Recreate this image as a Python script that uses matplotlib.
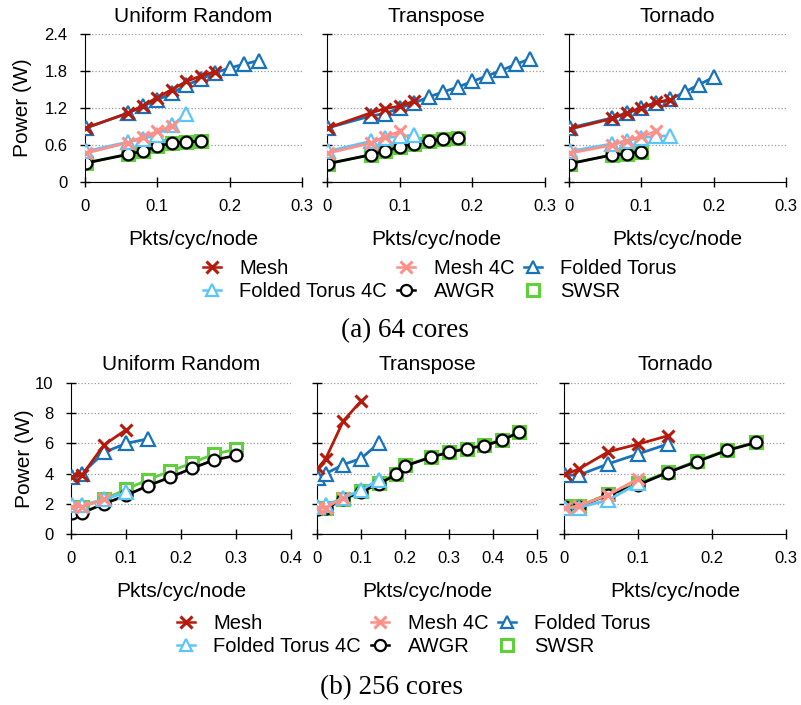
import matplotlib
matplotlib.use('Agg')
import matplotlib.pyplot as plt
from matplotlib.lines import Line2D
from matplotlib.ticker import FuncFormatter

plt.rcParams['font.family'] = ['Liberation Sans', 'DejaVu Sans']

NAMES = ['Mesh', 'Mesh 4C', 'Folded Torus', 'Folded Torus 4C', 'AWGR', 'SWSR']

# ---- 64 cores ----
ur64_x = [0.002, 0.06, 0.08, 0.1, 0.12, 0.14, 0.16, 0.18, 0.2, 0.22, 0.24]
ur64_mesh = [0.88, 1.12, 1.24, 1.37, 1.50, 1.63, 1.72, 1.79]
ur64_mesh4c = [0.47, 0.64, 0.73, 0.82, 0.91]
ur64_ft = [0.88, 1.12, 1.23, 1.33, 1.44, 1.57, 1.67, 1.77, 1.85, 1.91, 1.97]
ur64_ft4c = [0.50, 0.65, 0.70, 0.77, 0.92, 1.10]
ur64_awgr = [0.31, 0.45, 0.50, 0.58, 0.63, 0.65, 0.66]
ur64_swsr = [0.31, 0.45, 0.50, 0.58, 0.63, 0.65, 0.66]

tp64_x = [0.002, 0.06, 0.08, 0.1, 0.12, 0.14, 0.16, 0.18, 0.2, 0.22, 0.24, 0.26, 0.28]
tp64_mesh = [0.88, 1.12, 1.19, 1.23, 1.31]
tp64_mesh4c = [0.47, 0.63, 0.73, 0.82]
tp64_ft = [0.88, 1.07, 1.11, 1.20, 1.28, 1.38, 1.46, 1.54, 1.63, 1.72, 1.81, 1.91, 2.00]
tp64_ft4c = [0.50, 0.66, 0.72, 0.74, 0.76]
tp64_awgr = [0.30, 0.44, 0.50, 0.57, 0.62, 0.67, 0.69, 0.71]
tp64_swsr = [0.30, 0.44, 0.50, 0.57, 0.62, 0.67, 0.69, 0.71]

tn64_x = [0.002, 0.06, 0.08, 0.1, 0.12, 0.14, 0.16, 0.18, 0.2]
tn64_mesh = [0.86, 1.03, 1.12, 1.20, 1.29, 1.33]
tn64_mesh4c = [0.47, 0.60, 0.67, 0.74, 0.82]
tn64_ft = [0.88, 1.04, 1.12, 1.20, 1.28, 1.34, 1.46, 1.58, 1.70]
tn64_ft4c = [0.50, 0.62, 0.67, 0.72, 0.74, 0.75]
tn64_awgr = [0.30, 0.44, 0.46, 0.49]
tn64_swsr = [0.30, 0.44, 0.46, 0.49]

# ---- 256 cores ----
ur256_x = [0.002, 0.02, 0.06, 0.1, 0.14, 0.18, 0.22, 0.26, 0.3]
ur256_mesh = [3.8, 3.9, 5.9, 6.9]
ur256_mesh4c = [1.8, 1.8, 2.3]
ur256_ft = [3.8, 4.0, 5.4, 6.0, 6.3]
ur256_ft4c = [1.9, 1.9, 2.3, 2.75]
ur256_awgr = [1.4, 1.4, 2.0, 2.55, 3.2, 3.75, 4.35, 4.9, 5.2]
ur256_swsr = [1.8, 1.8, 2.3, 2.95, 3.6, 4.15, 4.7, 5.3, 5.6]

tp256_x = [0.002, 0.02, 0.06, 0.1, 0.14, 0.18, 0.2, 0.26, 0.3, 0.34, 0.38, 0.42, 0.46]
tp256_mesh = [4.35, 5.0, 7.5, 8.8]
tp256_mesh4c = [1.7, 1.75, 2.4]
tp256_ft = [3.7, 4.0, 4.6, 5.0, 6.0]
tp256_ft4c = [1.8, 1.9, 2.4, 2.9, 3.6]
tp256_awgr = [1.65, 1.7, 2.3, 2.8, 3.3, 3.95, 4.5, 5.1, 5.4, 5.65, 5.85, 6.2, 6.75]
tp256_swsr = [1.7, 1.75, 2.35, 2.85, 3.4, 4.0, 4.55, 5.1, 5.45, 5.65, 5.9, 6.25, 6.75]

tn256_x = [0.002, 0.02, 0.06, 0.1, 0.14, 0.18, 0.22, 0.26]
tn256_mesh = [3.95, 4.3, 5.45, 5.95, 6.5]
tn256_mesh4c = [1.75, 1.85, 2.6, 3.65]
tn256_ft = [3.9, 3.9, 4.65, 5.3, 5.95]
tn256_ft4c = [1.7, 1.75, 2.25, 3.35]
tn256_awgr = [1.8, 1.8, 2.6, 3.25, 4.07, 4.8, 5.53, 6.06]
tn256_swsr = [1.85, 1.85, 2.65, 3.35, 4.1, 4.85, 5.55, 6.1]

TITLES = ['Uniform Random', 'Transpose', 'Tornado']

STYLE = {
    'Mesh': dict(color='#B51A0A', marker='x', ms=9, mew=2.2, lw=2, zorder=6),
    'Mesh 4C': dict(color='#FF9088', marker='x', ms=9, mew=2.2, lw=2, zorder=4),
    'Folded Torus': dict(color='#1873BA', marker='^', ms=10, mew=1.6, mfc='white', lw=2, zorder=5),
    'Folded Torus 4C': dict(color='#5CC6FA', marker='^', ms=10, mew=1.6, mfc='white', lw=2, zorder=3),
    'AWGR': dict(color='black', marker='o', ms=8.5, mew=1.6, mfc='white', lw=2, zorder=2),
    'SWSR': dict(color='#5ED13A', marker='s', ms=9, mew=2.2, mfc='white', lw=2, zorder=1),
}

W, H = 801, 705
fig = plt.figure(figsize=(W / 100, H / 100), dpi=100)


def px_axes(left, top, width, height):
    return fig.add_axes([left / W, 1 - (top + height) / H, width / W, height / H])


def draw(ax, x, series, title, xmax, xticks, ymax, yticks, first, ylab_x):
    for name, y in zip(NAMES, series):
        ax.plot(x[:len(y)], y, label=name, **STYLE[name])
    ax.set_xlim(0, xmax)
    ax.set_ylim(0, ymax)
    ax.set_xticks(xticks)
    ax.set_yticks(yticks)
    fmt = FuncFormatter(lambda v, p: f'{v:g}')
    ax.xaxis.set_major_formatter(fmt)
    ax.yaxis.set_major_formatter(fmt)
    for s in ['top', 'right']:
        ax.spines[s].set_visible(False)
    ax.tick_params(direction='inout', length=7, width=1, labelsize=12, pad=9)
    ax.yaxis.grid(True, linestyle=':', color='#9a9a9a', lw=0.9)
    ax.set_axisbelow(True)
    ax.set_title(title, fontsize=15, pad=9)
    ax.set_xlabel('Pkts/cyc/node', fontsize=15, labelpad=11)
    if first:
        ax.set_ylabel('Power (W)', fontsize=15)
        ax.yaxis.set_label_coords(ylab_x, 0.5)
    else:
        ax.tick_params(axis='y', labelleft=False)


top_rows = [
    (ur64_x, [ur64_mesh, ur64_mesh4c, ur64_ft, ur64_ft4c, ur64_awgr, ur64_swsr]),
    (tp64_x, [tp64_mesh, tp64_mesh4c, tp64_ft, tp64_ft4c, tp64_awgr, tp64_swsr]),
    (tn64_x, [tn64_mesh, tn64_mesh4c, tn64_ft, tn64_ft4c, tn64_awgr, tn64_swsr]),
]
bot_rows = [
    (ur256_x, [ur256_mesh, ur256_mesh4c, ur256_ft, ur256_ft4c, ur256_awgr, ur256_swsr]),
    (tp256_x, [tp256_mesh, tp256_mesh4c, tp256_ft, tp256_ft4c, tp256_awgr, tp256_swsr]),
    (tn256_x, [tn256_mesh, tn256_mesh4c, tn256_ft, tn256_ft4c, tn256_awgr, tn256_swsr]),
]

top_lefts = [(85, 217), (327, 218), (569, 217)]
bot_lefts = [(71, 220), (317, 220), (564, 222)]
bot_xmax = [0.4, 0.5, 0.3]

for i, ((x, ser), (l, w)) in enumerate(zip(top_rows, top_lefts)):
    ax = px_axes(l, 34, w, 148)
    draw(ax, x, ser, TITLES[i], 0.3, [0, 0.1, 0.2, 0.3], 2.4,
         [0, 0.6, 1.2, 1.8, 2.4], i == 0, -0.245)

for i, ((x, ser), (l, w)) in enumerate(zip(bot_rows, bot_lefts)):
    ax = px_axes(l, 383, w, 151)
    xm = bot_xmax[i]
    ticks = [round(0.1 * k, 1) for k in range(int(round(xm * 10)) + 1)]
    draw(ax, x, ser, TITLES[i], xm, ticks, 10, [0, 2, 4, 6, 8, 10], i == 0, -0.17)

# legend, filled row-wise like the original
order = ['Mesh', 'Folded Torus 4C', 'Mesh 4C', 'AWGR', 'Folded Torus', 'SWSR']


def make_handles():
    hs = []
    for name in order:
        st = {k: v for k, v in STYLE[name].items() if k != 'zorder'}
        st['ms'] = 8
        st['lw'] = 1.8
        if name == 'SWSR':
            st['lw'] = 0
        hs.append(Line2D([], [], **st))
    return hs


leg_kw = dict(ncol=3, loc='center', frameon=False, fontsize=14.5, handlelength=0.9,
              handletextpad=0.9, columnspacing=0.5, labelspacing=0.22, numpoints=1)
fig.legend(make_handles(), order, bbox_to_anchor=(440 / W, 1 - 280 / H), **leg_kw)
fig.legend(make_handles(), order, bbox_to_anchor=(414 / W, 1 - 635 / H), **leg_kw)

fig.text(405 / W, 1 - 331 / H, '(a) 64 cores', ha='center', va='center',
         fontsize=19.5, family='Liberation Serif')
fig.text(391 / W, 1 - 688 / H, '(b) 256 cores', ha='center', va='center',
         fontsize=19.5, family='Liberation Serif')

fig.savefig('out.png', dpi=100)
